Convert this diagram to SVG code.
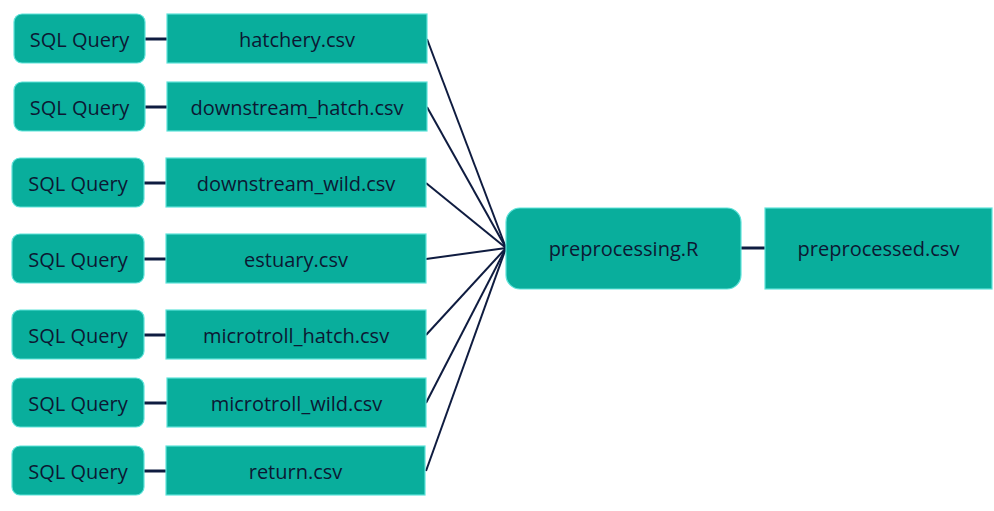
<svg xmlns="http://www.w3.org/2000/svg" width="994" height="511" viewBox="0 0 994 511">
<style>
.n{fill:#09ae9c;stroke:#5fe3da;stroke-width:1.2}
.t{font-family:"Open Sans","Liberation Sans",sans-serif;font-size:20px;fill:#0c1833;text-anchor:middle;dominant-baseline:central}
.c{stroke:#0f1c40;stroke-width:2;fill:none}
.s{stroke:#0f1c40;stroke-width:3;fill:none}
</style>
<rect width="994" height="511" fill="#ffffff"/>
<g id="connectors">
<line class="s" x1="145" y1="39" x2="167" y2="39"/>
<line class="s" x1="145" y1="107" x2="167" y2="107"/>
<line class="s" x1="144" y1="183" x2="166" y2="183"/>
<line class="s" x1="144" y1="259" x2="166" y2="259"/>
<line class="s" x1="144" y1="335" x2="166" y2="335"/>
<line class="s" x1="144" y1="403" x2="167" y2="403"/>
<line class="s" x1="144" y1="471" x2="166" y2="471"/>
<line class="c" x1="427" y1="39" x2="506" y2="248"/>
<line class="c" x1="427" y1="107" x2="506" y2="248"/>
<line class="c" x1="426" y1="183" x2="506" y2="248"/>
<line class="c" x1="426" y1="259" x2="506" y2="248"/>
<line class="c" x1="426" y1="335" x2="506" y2="248"/>
<line class="c" x1="426" y1="403" x2="506" y2="248"/>
<line class="c" x1="426" y1="471" x2="506" y2="248"/>
<line class="s" x1="741" y1="248" x2="765" y2="248"/>
</g>
<g id="sql1"><rect class="n" x="14" y="14" width="131" height="49" rx="8"/><text class="t" x="79.5" y="39">SQL Query</text></g>
<g id="sql2"><rect class="n" x="14" y="82" width="131" height="49" rx="8"/><text class="t" x="79.5" y="107">SQL Query</text></g>
<g id="sql3"><rect class="n" x="12" y="158" width="132" height="49" rx="8"/><text class="t" x="78" y="183">SQL Query</text></g>
<g id="sql4"><rect class="n" x="12" y="234" width="132" height="49" rx="8"/><text class="t" x="78" y="259">SQL Query</text></g>
<g id="sql5"><rect class="n" x="12" y="310" width="132" height="49" rx="8"/><text class="t" x="78" y="335">SQL Query</text></g>
<g id="sql6"><rect class="n" x="12" y="378" width="132" height="49" rx="8"/><text class="t" x="78" y="403">SQL Query</text></g>
<g id="sql7"><rect class="n" x="12" y="446" width="132" height="49" rx="8"/><text class="t" x="78" y="471">SQL Query</text></g>
<g id="hatchery"><rect class="n" x="167" y="14" width="260" height="49"/><text class="t" x="297" y="39">hatchery.csv</text></g>
<g id="downstream_hatch"><rect class="n" x="167" y="82" width="260" height="49"/><text class="t" x="297" y="107">downstream_hatch.csv</text></g>
<g id="downstream_wild"><rect class="n" x="166" y="158" width="260" height="49"/><text class="t" x="296" y="183">downstream_wild.csv</text></g>
<g id="estuary"><rect class="n" x="166" y="234" width="260" height="49"/><text class="t" x="296" y="259">estuary.csv</text></g>
<g id="microtroll_hatch"><rect class="n" x="166" y="310" width="260" height="49"/><text class="t" x="296" y="335">microtroll_hatch.csv</text></g>
<g id="microtroll_wild"><rect class="n" x="167" y="378" width="259" height="49"/><text class="t" x="296.5" y="403">microtroll_wild.csv</text></g>
<g id="return"><rect class="n" x="166" y="446" width="259" height="49"/><text class="t" x="295.5" y="471">return.csv</text></g>
<g id="preprocessing"><rect class="n" x="506" y="208" width="235" height="81" rx="14"/><text class="t" x="623.5" y="248">preprocessing.R</text></g>
<g id="preprocessed"><rect class="n" x="765" y="208" width="227" height="81"/><text class="t" x="878.5" y="248">preprocessed.csv</text></g>
</svg>
